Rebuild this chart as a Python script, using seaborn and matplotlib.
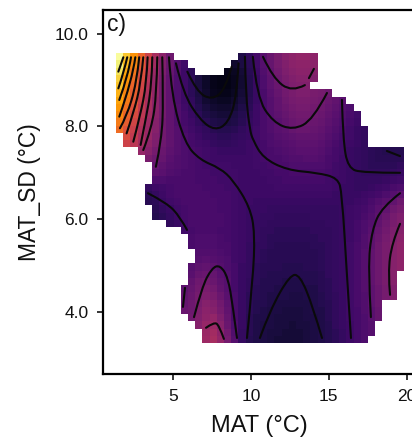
import numpy as np
import pandas as pd
import seaborn as sns
import matplotlib
matplotlib.use("Agg")
import matplotlib.pyplot as plt
from matplotlib.colors import PowerNorm
from matplotlib.path import Path
from matplotlib.patches import PathPatch

sns.set_theme(style="ticks")
plt.rcParams["font.family"] = ["Liberation Sans", "DejaVu Sans"]

# Effect surface, top row (MAT_SD 9.6) to bottom row (MAT_SD 3.35), percent of the colour scale
surface_rows = [
 [99,88,78,68,58,49,41,34,28,24,20,16,12,10,9,9,11,15,19,24,29,33,37,40,42,43,43,42,41,39,37,35,33,31,29,27,25,23,21,20],
 [96,85,75,65,56,47,39,33,27,23,19,15,11,9,8,8,10,14,18,23,28,32,36,39,41,42,42,41,40,38,36,34,32,30,28,26,24,22,20,19],
 [93,82,72,63,54,45,38,32,27,22,18,14,10,7,6,6,8,12,17,22,27,31,35,38,40,41,41,40,39,37,35,33,31,29,27,25,23,21,19,18],
 [90,79,70,61,52,44,37,31,26,22,18,13,9,6,5,5,7,11,16,21,26,30,34,37,39,40,40,39,38,36,34,32,30,28,26,24,22,20,18,17],
 [87,77,68,59,51,43,36,31,26,22,18,13,9,6,5,5,7,11,16,21,26,30,33,36,38,39,39,38,37,35,33,31,29,27,25,23,21,19,17,16],
 [84,75,66,58,50,43,36,31,26,22,18,14,10,7,6,6,8,12,16,21,25,29,32,35,37,38,38,37,36,34,32,30,28,26,24,22,20,18,16,15],
 [81,73,65,57,49,42,36,31,26,22,19,15,11,9,8,8,10,13,17,21,25,28,31,34,36,37,37,36,35,33,31,29,27,25,23,21,19,17,15,14],
 [79,71,63,55,48,42,36,31,27,23,20,16,13,11,10,10,12,15,18,22,25,28,31,33,35,36,36,35,34,32,30,28,26,24,22,20,18,16,14,13],
 [76,68,61,54,47,41,36,31,27,24,21,18,15,13,12,12,14,16,19,22,25,28,30,32,34,35,35,34,33,31,29,27,25,23,21,19,17,15,14,13],
 [73,66,59,52,46,40,35,31,27,24,22,19,17,15,14,14,15,17,20,22,25,27,29,31,33,34,34,33,32,30,28,26,24,22,20,18,17,15,14,13],
 [70,63,57,50,45,40,35,31,28,25,23,21,19,17,16,16,17,19,21,23,25,27,29,30,32,33,33,32,31,29,27,25,23,21,20,18,17,15,14,14],
 [66,61,55,49,44,39,35,31,28,26,24,22,20,19,18,18,19,20,21,23,25,26,28,29,30,31,31,31,30,28,26,24,23,21,20,18,17,16,15,15],
 [62,58,53,47,42,38,34,31,28,26,24,23,22,20,19,19,20,21,22,23,24,26,27,28,29,30,30,30,29,27,25,23,22,21,19,18,17,16,15,15],
 [58,54,49,44,40,36,33,30,28,26,25,24,23,22,21,21,21,21,22,23,24,25,26,27,28,29,29,29,28,26,24,23,21,20,19,18,17,16,16,16],
 [54,50,46,41,37,34,32,29,27,26,25,24,23,22,22,22,22,22,22,23,24,25,25,26,27,27,28,28,27,25,24,22,21,20,19,18,17,17,17,17],
 [50,46,42,38,35,32,30,28,27,26,25,24,23,23,23,23,22,22,22,23,23,24,25,25,26,26,26,26,26,25,23,22,21,20,19,18,18,18,18,19],
 [46,42,39,35,32,30,29,27,26,25,25,24,24,23,23,23,23,22,22,22,23,23,24,24,25,25,25,25,25,24,23,22,21,20,19,19,19,19,20,21],
 [42,38,35,31,28,26,26,25,25,25,25,24,24,24,23,23,23,22,22,22,22,23,23,24,24,24,24,24,24,23,22,22,21,20,20,20,20,21,22,23],
 [38,34,30,26,20,22,23,24,25,25,25,25,24,24,24,23,23,22,22,22,22,22,23,23,23,23,23,23,23,23,22,21,21,20,20,21,22,23,25,26],
 [34,30,26,22,18,20,22,24,25,25,25,25,25,24,24,24,23,22,22,22,22,22,22,22,22,22,22,22,22,22,21,21,21,21,22,23,24,26,28,30],
 [30,26,22,19,17,18,21,23,24,25,25,25,25,25,24,24,23,22,22,21,21,21,21,21,21,21,21,21,21,21,21,21,21,22,23,25,27,29,31,34],
 [28,24,20,17,17,17,19,21,23,24,25,25,25,25,24,24,23,22,21,21,21,20,20,20,20,20,20,20,20,20,20,21,22,23,24,26,29,31,34,36],
 [26,22,19,17,16,16,18,20,22,24,25,25,25,25,25,24,23,22,21,21,20,20,19,19,19,19,19,20,20,20,20,21,22,23,25,27,30,33,36,38],
 [25,21,18,16,16,16,17,19,21,23,25,25,25,25,25,24,23,22,21,20,20,19,19,19,19,19,19,19,19,20,20,21,22,24,26,28,31,34,37,39],
 [24,21,18,16,15,15,16,18,20,23,24,25,25,25,24,24,23,22,21,20,19,19,18,18,18,18,18,19,19,19,20,21,22,24,26,29,32,35,38,40],
 [24,21,19,17,16,16,17,19,21,24,25,26,26,26,25,24,23,22,21,20,19,18,18,18,18,18,18,18,19,19,20,21,22,24,27,30,33,36,39,41],
 [24,22,20,18,17,18,19,20,22,25,25,26,26,26,25,25,23,22,20,19,19,18,17,17,17,17,17,18,18,19,20,21,23,25,27,30,34,37,40,42],
 [25,23,21,19,18,19,20,21,23,26,26,27,27,27,26,25,23,22,20,19,18,17,17,17,17,17,17,17,18,19,20,21,23,25,28,31,34,37,40,42],
 [25,23,21,20,19,20,21,22,24,27,27,28,29,28,27,26,23,22,20,19,18,17,17,17,17,17,17,17,18,19,20,21,23,25,28,31,34,37,40,42],
 [26,24,22,21,20,21,22,23,25,28,28,30,31,30,28,26,24,21,20,18,17,17,17,16,16,16,17,17,18,19,20,21,23,25,28,31,34,37,40,42],
 [26,24,23,22,21,22,23,24,26,29,29,32,33,32,29,27,24,21,20,18,17,16,16,16,16,16,16,16,17,19,20,21,23,25,28,31,34,37,40,42],
 [27,25,24,23,22,23,24,25,27,30,31,34,35,33,30,28,24,21,19,18,16,16,16,15,15,15,16,16,17,18,20,21,23,25,28,31,34,37,40,42],
 [27,25,24,23,22,23,24,25,27,30,32,35,37,35,31,28,24,21,19,17,16,16,15,15,15,15,15,15,17,18,20,21,23,25,28,30,33,36,39,41],
 [27,25,24,23,22,23,24,26,28,31,33,36,38,37,33,29,25,21,18,17,16,15,15,15,14,14,15,15,16,18,19,21,23,25,27,30,33,36,39,41],
 [27,26,25,24,23,24,25,26,29,32,34,37,40,39,35,30,25,21,18,16,16,15,14,14,14,14,14,15,16,17,19,21,23,25,27,30,33,36,39,41],
 [27,26,25,24,24,25,25,27,29,33,34,38,41,40,36,31,25,21,18,16,15,14,14,13,13,13,14,15,15,17,19,21,23,24,27,29,32,35,38,40],
 [28,27,26,25,24,25,26,27,30,33,35,39,42,43,38,32,25,21,17,15,15,14,13,13,13,13,14,14,15,17,19,21,23,24,26,29,32,35,38,40],
 [28,27,26,25,25,25,26,28,30,34,36,40,44,45,40,33,26,21,17,15,14,14,13,13,12,13,13,14,15,16,19,21,22,24,26,28,31,34,37,39],
 [28,27,26,26,25,26,26,28,31,34,36,41,45,47,42,35,27,20,17,15,14,13,13,12,12,12,13,14,15,16,18,20,22,24,26,28,31,34,37,39],
 [28,27,27,26,25,26,27,28,31,35,37,41,46,48,43,36,28,20,16,15,14,13,12,12,12,12,13,14,15,16,18,20,22,24,26,28,30,33,36,38],
]

# Sampled climate space: per row, the inclusive runs of grid columns that hold data
row_spans = [
 [(0,7),(17,27)],[(0,9),(16,27)],[(0,10),(15,27)],[(0,27)],[(0,26)],[(0,29)],[(0,31)],[(0,32)],
 [(0,33)],[(0,33)],[(0,34)],[(1,34)],[(1,34)],[(3,39)],[(4,39)],[(5,39)],[(5,39)],[(5,39)],
 [(4,39)],[(4,39)],[(4,39)],[(5,39)],[(5,39)],[(7,39)],[(9,39)],[(10,39)],[(10,39)],[(11,39)],
 [(11,39)],[(10,39)],[(10,38)],[(10,38)],[(9,38)],[(9,38)],[(9,36)],[(9,36)],[(10,36)],[(11,35)],
 [(12,35)],[(12,34)],
]

# Contour lines as (MAT, MAT_SD)
contours = [
 [(1.81,9.49),(1.49,9.18)],
 [(2.06,9.49),(1.85,9.18),(1.49,8.82)],
 [(2.30,9.49),(2.13,9.11),(1.55,8.57)],
 [(2.58,9.49),(2.38,9.00),(1.55,8.21)],
 [(2.83,9.49),(2.66,8.93),(2.02,8.21),(1.59,7.96)],
 [(3.09,9.49),(2.94,8.93),(2.45,8.28),(2.02,7.85)],
 [(3.37,9.49),(3.30,8.93),(2.88,8.21),(2.45,7.67)],
 [(3.67,9.49),(3.63,8.86),(3.20,8.07),(2.92,7.60)],
 [(3.99,9.49),(3.95,8.71),(3.63,7.96),(3.09,7.49)],
 [(4.31,9.49),(4.38,8.57),(4.27,7.71),(3.90,7.13)],
 [(4.74,9.49),(4.91,8.64),(5.77,7.63),(6.73,7.28),(8.02,7.10),(8.87,6.84),(9.94,6.26),(10.26,5.70),(10.13,4.69),(9.75,3.44)],
 [(5.19,9.36),(5.66,8.71),(6.73,8.14),(7.69,7.91),(8.55,8.07),(9.09,8.64),(9.21,9.36)],
 [(5.92,9.18),(6.52,8.75),(7.48,8.57),(8.34,8.78),(8.77,9.29)],
 [(9.62,9.50),(9.68,8.63),(9.94,7.92),(10.13,7.71),(10.78,7.32),(12.32,7.06),(14.25,7.00),(15.59,6.89),(15.85,6.56),(16.17,4.80),(16.43,3.44)],
 [(10.13,9.50),(10.39,8.63),(11.42,8.09),(12.70,7.92),(13.99,8.14),(14.89,8.72)],
 [(10.78,9.50),(11.42,9.04),(12.64,8.74),(13.47,8.89)],
 [(13.73,9.04),(14.05,9.24)],
 [(15.85,8.57),(15.92,7.71),(16.24,7.10),(17.20,7.00),(19.58,7.00)],
 [(18.74,7.47),(19.58,7.36)],
 [(3.39,6.56),(4.61,6.35),(5.45,6.05),(5.90,5.77)],
 [(5.77,4.52),(5.64,4.11)],
 [(6.35,3.89),(6.86,4.54),(7.50,4.95),(8.02,5.01),(8.53,4.75),(8.85,4.11),(9.11,3.44)],
 [(7.12,3.66),(7.63,3.78),(7.95,3.72),(8.27,3.42)],
 [(10.58,3.44),(11.23,4.04),(12.51,4.80),(13.15,4.80),(13.99,4.11),(14.57,3.44)],
 [(19.58,6.56),(18.42,6.26),(17.78,5.77),(17.52,4.97),(17.71,3.89)],
 [(19.58,5.90),(19.06,5.49),(18.81,4.84),(18.94,4.37)],
]

x_ticks = [5, 10, 15, 20]
y_ticks = [4.0, 6.0, 8.0, 10.0]
x_label = "MAT (°C)"
y_label = "MAT_SD (°C)"
panel_tag = "c)"

W, H = 412, 437
fig = plt.figure(figsize=(W / 100, H / 100), dpi=100)


def px_axes(left, top, right, bottom):
    return fig.add_axes([left / W, 1 - bottom / H, (right - left) / W, (bottom - top) / H])


# Heat layer
values = pd.DataFrame(surface_rows, dtype=float)
mask = np.ones(values.shape, dtype=bool)
for r, spans in enumerate(row_spans):
    for a, b in spans:
        mask[r, a:b + 1] = False
ax_heat = px_axes(116, 53, 404, 343)
sns.heatmap(values, mask=mask, cmap="inferno", norm=PowerNorm(gamma=1.1, vmin=0, vmax=100), cbar=False,
            xticklabels=False, yticklabels=False, linewidths=0, ax=ax_heat)
ax_heat.set_axis_off()

# Scale layer, in data units
x_per_px = 1 / 15.57
y_per_px = 1 / 46.4
ax = px_axes(103, 10, 440, 374)
ax.patch.set_alpha(0)
ax.set_xlim(5 + (103 - 173) * x_per_px, 5 + (440 - 173) * x_per_px)
ax.set_ylim(4 + (312 - 374) * y_per_px, 4 + (312 - 10) * y_per_px)
ax.set_zorder(2)

for line in contours:
    pts = np.array(line)
    if len(pts) == 2:
        path = Path(pts, [Path.MOVETO, Path.LINETO])
    else:
        verts, codes = [pts[0]], [Path.MOVETO]
        for i in range(1, len(pts) - 1):
            end = pts[i + 1] if i == len(pts) - 2 else (pts[i] + pts[i + 1]) / 2
            verts += [pts[i], end]
            codes += [Path.CURVE3, Path.CURVE3]
        path = Path(np.array(verts), codes)
    ax.add_patch(PathPatch(path, fill=False, ec="#0a0a0a", lw=1.5, capstyle="round"))

ax.set_xticks(x_ticks)
ax.set_xticklabels([str(t) for t in x_ticks])
ax.set_yticks(y_ticks)
ax.set_yticklabels([f"{t:.1f}" for t in y_ticks])
ax.tick_params(length=4.5, width=1.1, labelsize=12.5, color="black", labelcolor="#111111")
ax.tick_params(axis="x", pad=6)
ax.tick_params(axis="y", pad=6)
for s in ax.spines.values():
    s.set_linewidth(1.6)
    s.set_color("black")
ax.set_xlabel(x_label, fontsize=17, color="#111111", x=(259 - 103) / 337, labelpad=8)
ax.set_ylabel(y_label, fontsize=16.5, color="#111111", labelpad=10)
fig.text(107 / W, 1 - 31 / H, panel_tag, fontsize=16.5, color="#111111", zorder=5)

fig.savefig("out.png", dpi=100, facecolor="white")
